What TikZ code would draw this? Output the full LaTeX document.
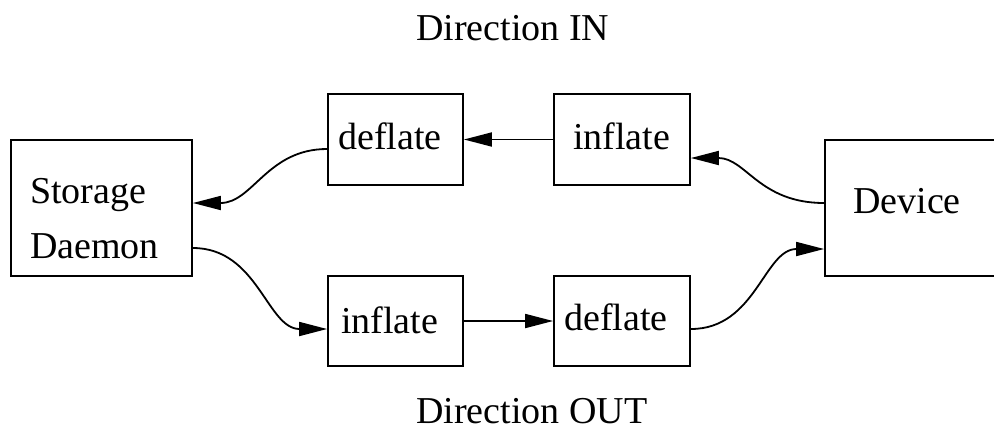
\documentclass[tikz,border=0pt]{standalone}
\usepackage{fontspec}
\setmainfont{Liberation Serif}
\usetikzlibrary{arrows.meta}
\begin{document}
\begin{tikzpicture}[x=1pt,y=-1pt,
  box/.style={draw, line width=1.8pt, rectangle, inner sep=0pt},
  lbl/.style={anchor=base west, inner sep=0pt, font=\fontsize{38}{40}\selectfont},
  conn/.style={line width=1.8pt, -{Triangle[length=28pt,width=14pt]}}]
\useasboundingbox (0,0) rectangle (994,432);
% boxes
\node[box, minimum width=181pt, minimum height=136pt] (sd) at (101.5,208) {};
\node[box, minimum width=135pt, minimum height=91pt] (dtop) at (395.5,139.5) {};
\node[box, minimum width=136pt, minimum height=91pt] (itop) at (622,139.5) {};
\node[box, minimum width=171pt, minimum height=136pt] (dev) at (910.5,208) {};
\node[box, minimum width=135pt, minimum height=90pt] (ibot) at (395.5,321) {};
\node[box, minimum width=136pt, minimum height=90pt] (dbot) at (622,321) {};
% texts
\node[lbl] (tin) at (416,40) {Direction IN};
\node[lbl] (tout) at (416,423) {Direction OUT};
\node[lbl] (t1) at (30,203) {Storage};
\node[lbl] (t2) at (30,258) {Daemon};
\node[lbl] (t3) at (338,149) {deflate};
\node[lbl] (t4) at (573,149) {inflate};
\node[lbl] (t5) at (853,213) {Device};
\node[lbl] (t6) at (341,333) {inflate};
\node[lbl] (t7) at (564,330) {deflate};
% connectors
\draw[conn] (itop.west) -- (dtop.east);
\draw[conn] (ibot.east) -- (dbot.west);
\draw[conn] ([yshift=-9.5pt]dtop.west) .. controls +(-60,0) and +(60,0) .. ([yshift=5pt]sd.east);
\draw[conn] ([yshift=-40pt]sd.east) .. controls +(65,0) and +(-60,0) .. ([yshift=-8pt]ibot.west);
\draw[conn] ([yshift=5pt]dev.west) .. controls +(-65,0) and +(55,0) .. ([yshift=-18.5pt]itop.east);
\draw[conn] ([yshift=-8pt]dbot.east) .. controls +(65,0) and +(-60,0) .. ([yshift=-41pt]dev.west);
\end{tikzpicture}
\end{document}
